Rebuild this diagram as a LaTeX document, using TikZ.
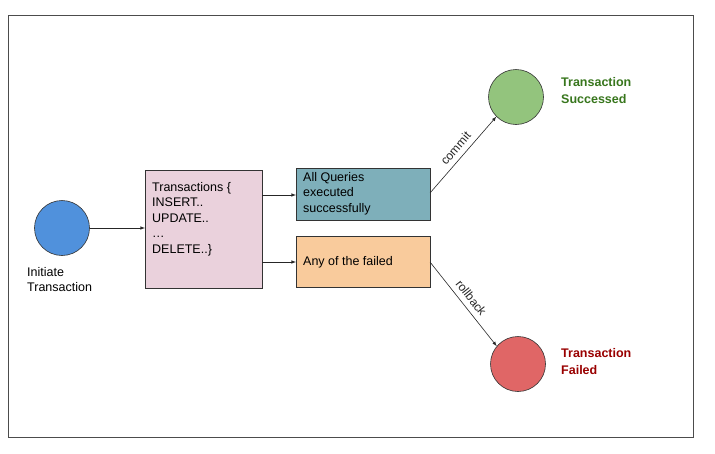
\documentclass[tikz,border=0pt]{standalone}
\usepackage{fontspec}
\setmainfont{Liberation Sans}
\begin{document}
\begin{tikzpicture}[x=1pt,y=-1pt,
  box/.style={draw=black!80,line width=0.6pt,minimum width=117pt,anchor=north west,inner sep=0pt},
  circ/.style={circle,draw=black!80,line width=0.6pt,minimum size=55pt,inner sep=0pt},
  arr/.style={-latex,line width=0.6pt,black!85},
  txt/.style={font=\fontsize{12.5}{15.5}\selectfont,align=left,inner sep=1pt}]
\useasboundingbox (0,0) rectangle (715,453);
\draw[black!70,line width=0.6pt] (8,15) rectangle (693,437);
\node[circ,fill={rgb,255:red,80;green,145;blue,220}] (init) at (62,228) {};
\node[txt,anchor=north west] (initl) at (26,266) {Initiate\\Transaction};
\node[box,fill={rgb,255:red,234;green,209;blue,220},minimum width=117pt,minimum height=118pt] (tx) at (145,170) {};
\node[txt,anchor=north west] (txl) at (151,181) {Transactions \{\\INSERT..\\UPDATE..\\…\\DELETE..\}};
\node[box,fill={rgb,255:red,126;green,175;blue,186},minimum width=134pt,minimum height=52pt] (ok) at (296,168) {};
\node[txt,anchor=north west] (okl) at (302,171) {All Queries\\executed\\successfully};
\node[box,fill={rgb,255:red,249;green,203;blue,156},minimum width=134pt,minimum height=51pt] (fail) at (296,236) {};
\node[txt,anchor=west] (faill) at (302,262) {Any of the failed};
\node[circ,fill={rgb,255:red,147;green,196;blue,125}] (succ) at (516,97) {};
\node[circ,fill={rgb,255:red,224;green,102;blue,102}] (bad) at (518,364) {};
\node[txt,anchor=north west,font=\fontsize{12.5}{17}\selectfont\bfseries,text={rgb,255:red,56;green,118;blue,29}] (sl) at (560,76) {Transaction\\Successed};
\node[txt,anchor=north west,font=\fontsize{12.5}{17}\selectfont\bfseries,text={rgb,255:red,153;green,0;blue,0}] (fl) at (560,347) {Transaction\\Failed};
\draw[arr] (init.east) -- (tx.west |- init.east);
\draw[arr] (262,195) coordinate (a1) -- (ok.west |- a1);
\draw[arr] (262,262) coordinate (a2) -- (fail.west |- a2);
\draw[arr] (430,193) coordinate (c1) -- (succ.225) node[midway,sloped,above=2pt,font=\fontsize{12}{14}\selectfont] {commit};
\draw[arr] (430,262) coordinate (c2) -- (bad.140) node[midway,sloped,above=2pt,font=\fontsize{12}{14}\selectfont] {rollback};
\end{tikzpicture}
\end{document}
